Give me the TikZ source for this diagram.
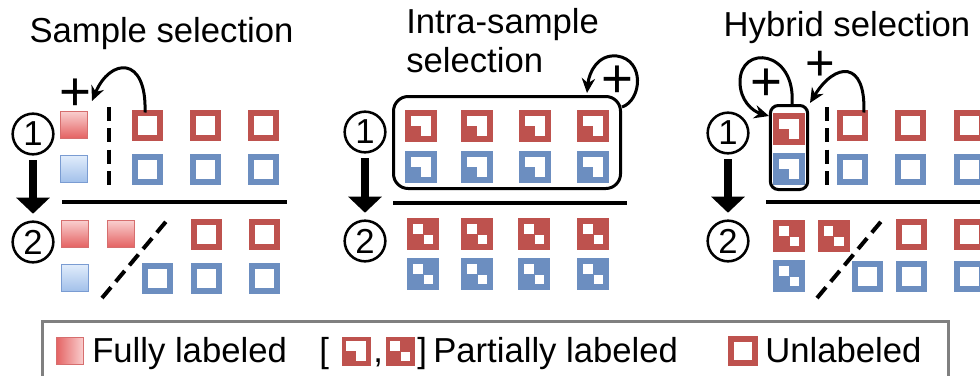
\documentclass[tikz,border=0pt]{standalone}
\usepackage{fontspec}
\setmainfont{Liberation Sans}
\usetikzlibrary{arrows.meta}

\definecolor{redu}{RGB}{190,82,78}
\definecolor{blueu}{RGB}{108,142,192}
\definecolor{redtop}{RGB}{249,205,205}
\definecolor{redbot}{RGB}{228,98,98}
\definecolor{redline}{RGB}{214,110,110}
\definecolor{bluetop}{RGB}{224,236,251}
\definecolor{bluebot}{RGB}{162,192,234}
\definecolor{blueline}{RGB}{122,156,210}
\definecolor{legendgray}{RGB}{128,128,128}

\tikzset{
  lbl/.style={font=\fontsize{26}{31}\selectfont, inner sep=0pt},
  plus/.style={font=\fontsize{41}{41}\selectfont, inner sep=0pt},
  unlab/.style={draw=#1, line width=4.5pt, minimum size=18.75pt, inner sep=0pt, outer sep=0pt},
  fullred/.style={draw=redline, line width=0.75pt, top color=redtop, bottom color=redbot,
                  minimum size=20pt, inner sep=0pt, outer sep=0pt},
  fullblue/.style={draw=blueline, line width=0.75pt, top color=bluetop, bottom color=bluebot,
                   minimum size=20pt, inner sep=0pt, outer sep=0pt},
  % partially labeled, step 1: bottom-left quarter of the interior filled
  parta/.style={fill=#1, minimum size=24pt, inner sep=0pt, outer sep=0pt, path picture={
      \fill[white] ([shift={(-7.5pt,0pt)}]path picture bounding box.center)
          rectangle ([shift={(7.5pt,7.5pt)}]path picture bounding box.center);
      \fill[white] (path picture bounding box.center)
          rectangle ([shift={(7.5pt,-7.5pt)}]path picture bounding box.center);}},
  % partially labeled, step 2: two white cells on the diagonal
  partb/.style={fill=#1, minimum size=24pt, inner sep=0pt, outer sep=0pt, path picture={
      \fill[white] ([shift={(-7.5pt,0.3pt)}]path picture bounding box.center)
          rectangle ([shift={(-0.3pt,7.5pt)}]path picture bounding box.center);
      \fill[white] ([shift={(0.6pt,-0.9pt)}]path picture bounding box.center)
          rectangle ([shift={(7.5pt,-7.8pt)}]path picture bounding box.center);}},
  circnum/.style={circle, draw, line width=1.9pt, minimum size=30.5pt, inner sep=0pt,
                  font=\fontsize{26}{26}\selectfont},
  bigarrow/.style={line width=6pt, -{Triangle[width=24.5pt,length=12pt]},
                   shorten <=3.5pt, shorten >=5pt},
  curv/.style={line width=2.25pt, -{Stealth[length=11pt,width=10pt]}},
  sep/.style={line width=3pt},
  dsep/.style={line width=3pt, dash pattern=on 10.5pt off 5.5pt},
  selbox/.style={draw, line width=2.25pt, inner sep=0pt},
}

\begin{document}
\begin{tikzpicture}[x=0.75pt,y=-0.75pt]
\useasboundingbox (0,0) rectangle (980,375);
\clip (0,0) rectangle (980,375);

% ---------------- Sample selection ----------------
\node[lbl, anchor=base] (t1) at (161.5,42) {Sample selection};
\node[circnum] (c1a) at (33,134) {1};
\node[circnum] (c1b) at (33,242) {2};
\draw[bigarrow] (c1a) -- (c1b);

\node[fullred]  (f11) at (74,125) {};
\node[fullblue] (f12) at (74,169) {};
\node[unlab=redu]  (u11) at (147,125) {};
\node[unlab=redu]  (u12) at (205,125) {};
\node[unlab=redu]  (u13) at (263,125) {};
\node[unlab=blueu] (u14) at (147,169) {};
\node[unlab=blueu] (u15) at (205,169) {};
\node[unlab=blueu] (u16) at (263,169) {};
\draw[dsep] (109,107) -- (109,188);
\node[plus] (p1) at (75,95) {+};
\coordinate (tip1) at (92,101);
\draw[curv] ([xshift=-1.5pt]u11.north) .. controls (147,55) and (110,58) .. (tip1);

\draw[sep] (62,202) -- (287,202);

\node[fullred]  (f21) at (75,234) {};
\node[fullred]  (f22) at (121,234) {};
\node[unlab=redu]  (u21) at (206,234) {};
\node[unlab=redu]  (u22) at (264,234) {};
\node[fullblue] (f23) at (75,278) {};
\node[unlab=blueu] (u23) at (157,278) {};
\node[unlab=blueu] (u24) at (206,278) {};
\node[unlab=blueu] (u25) at (264,278) {};
\draw[dsep] (102,298) -- (169,218);

% ---------------- Intra-sample selection ----------------
\node[lbl, anchor=base west] (t2a) at (406,33) {Intra-sample};
\node[lbl, anchor=base west] (t2b) at (406,72) {selection};
\node[circnum] (c2a) at (365,132) {1};
\node[circnum] (c2b) at (365,241) {2};
\draw[bigarrow] (c2a) -- (c2b);

\node[selbox, rounded corners=11pt, minimum width=170.25pt, minimum height=69pt]
  (box2) at (507,142.5) {};
\node[parta=redu]  (a11) at (421,126) {};
\node[parta=redu]  (a12) at (477,126) {};
\node[parta=redu]  (a13) at (535,126) {};
\node[parta=redu]  (a14) at (593,126) {};
\node[parta=blueu] (a15) at (421,167) {};
\node[parta=blueu] (a16) at (477,167) {};
\node[parta=blueu] (a17) at (535,167) {};
\node[parta=blueu] (a18) at (593,167) {};
\node[plus] (p2) at (617,82) {+};
\coordinate (tip2) at (587,93);
\draw[curv] ([yshift=26.6pt]box2.east) .. controls (642,100) and (645,60) .. (617,56)
  .. controls (598,54) and (589,72) .. (tip2);

\draw[sep] (393,203) -- (627,203);

\node[partb=redu]  (b11) at (423,234) {};
\node[partb=redu]  (b12) at (477,234) {};
\node[partb=redu]  (b13) at (534,234) {};
\node[partb=redu]  (b14) at (593,234) {};
\node[partb=blueu] (b15) at (423,274) {};
\node[partb=blueu] (b16) at (477,274) {};
\node[partb=blueu] (b17) at (534,274) {};
\node[partb=blueu] (b18) at (593,274) {};

% ---------------- Hybrid selection ----------------
\node[lbl, anchor=base] (t3) at (847,36) {Hybrid selection};
\node[circnum] (c3a) at (728,133) {1};
\node[circnum] (c3b) at (728,241) {2};
\draw[bigarrow] (c3a) -- (c3b);

\node[selbox, rounded corners=6pt, minimum width=28pt, minimum height=63pt]
  (box3) at (789,147.5) {};
\node[parta=redu]  (h11) at (789,129) {};
\node[parta=blueu] (h12) at (789,169) {};
\draw[dsep] (827,107) -- (827,188);
\node[unlab=redu]  (v11) at (852.5,125) {};
\node[unlab=redu]  (v12) at (910,125) {};
\node[unlab=redu]  (v13) at (969,125) {};
\node[unlab=blueu] (v14) at (852.5,169) {};
\node[unlab=blueu] (v15) at (910,169) {};
\node[unlab=blueu] (v16) at (969,169) {};

\node[plus] (p3) at (766,85) {+};
\coordinate (tip3) at (769,116);
\draw[curv] ([xshift=2.25pt]box3.north) .. controls (796,50) and (740,44) .. (740,82)
  .. controls (740,100) and (752,111) .. (tip3);
\node[plus, font=\fontsize{38}{38}\selectfont] (p4) at (820,66) {+};
\coordinate (tip4) at (810,103);
\draw[curv] ([xshift=8.5pt]v11.north) .. controls (866,60) and (835,62) .. (tip4);

\draw[sep] (766,202) -- (985,202);

\node[partb=redu]  (g11) at (789,236) {};
\node[partb=redu]  (g12) at (833.5,236) {};
\node[unlab=redu]  (w11) at (911.5,234) {};
\node[unlab=redu]  (w12) at (969,234) {};
\node[partb=blueu] (g13) at (789,276) {};
\node[unlab=blueu] (w13) at (867.5,276) {};
\node[unlab=blueu] (w14) at (911,276) {};
\node[unlab=blueu] (w15) at (969,276) {};
\draw[dsep] (817,298) -- (884,218);

% ---------------- Legend ----------------
\draw[legendgray, line width=2.25pt] (42,321) rectangle (948,381);
\node[draw=redline, line width=0.6pt, left color=redbot, right color=redtop,
      minimum size=20.25pt, inner sep=0pt] (lg1) at (69.5,350.5) {};
\node[lbl, anchor=base west] (lt1) at (92,362) {Fully labeled};
\node[lbl, anchor=base west] (lbo) at (319,362) {[};
\node[parta=redu, minimum size=21.75pt] (lg2) at (356,351) {};
\node[lbl, anchor=base west] (lco) at (373,362) {,};
\node[partb=redu, minimum size=21.75pt] (lg3) at (400,351) {};
\node[lbl, anchor=base west] (lbc) at (417,362) {]};
\node[lbl, anchor=base west] (lt2) at (433,362) {Partially labeled};
\node[unlab=redu, minimum size=17.5pt] (lg4) at (743,351) {};
\node[lbl, anchor=base west] (lt3) at (765,362) {Unlabeled};
\end{tikzpicture}
\end{document}
